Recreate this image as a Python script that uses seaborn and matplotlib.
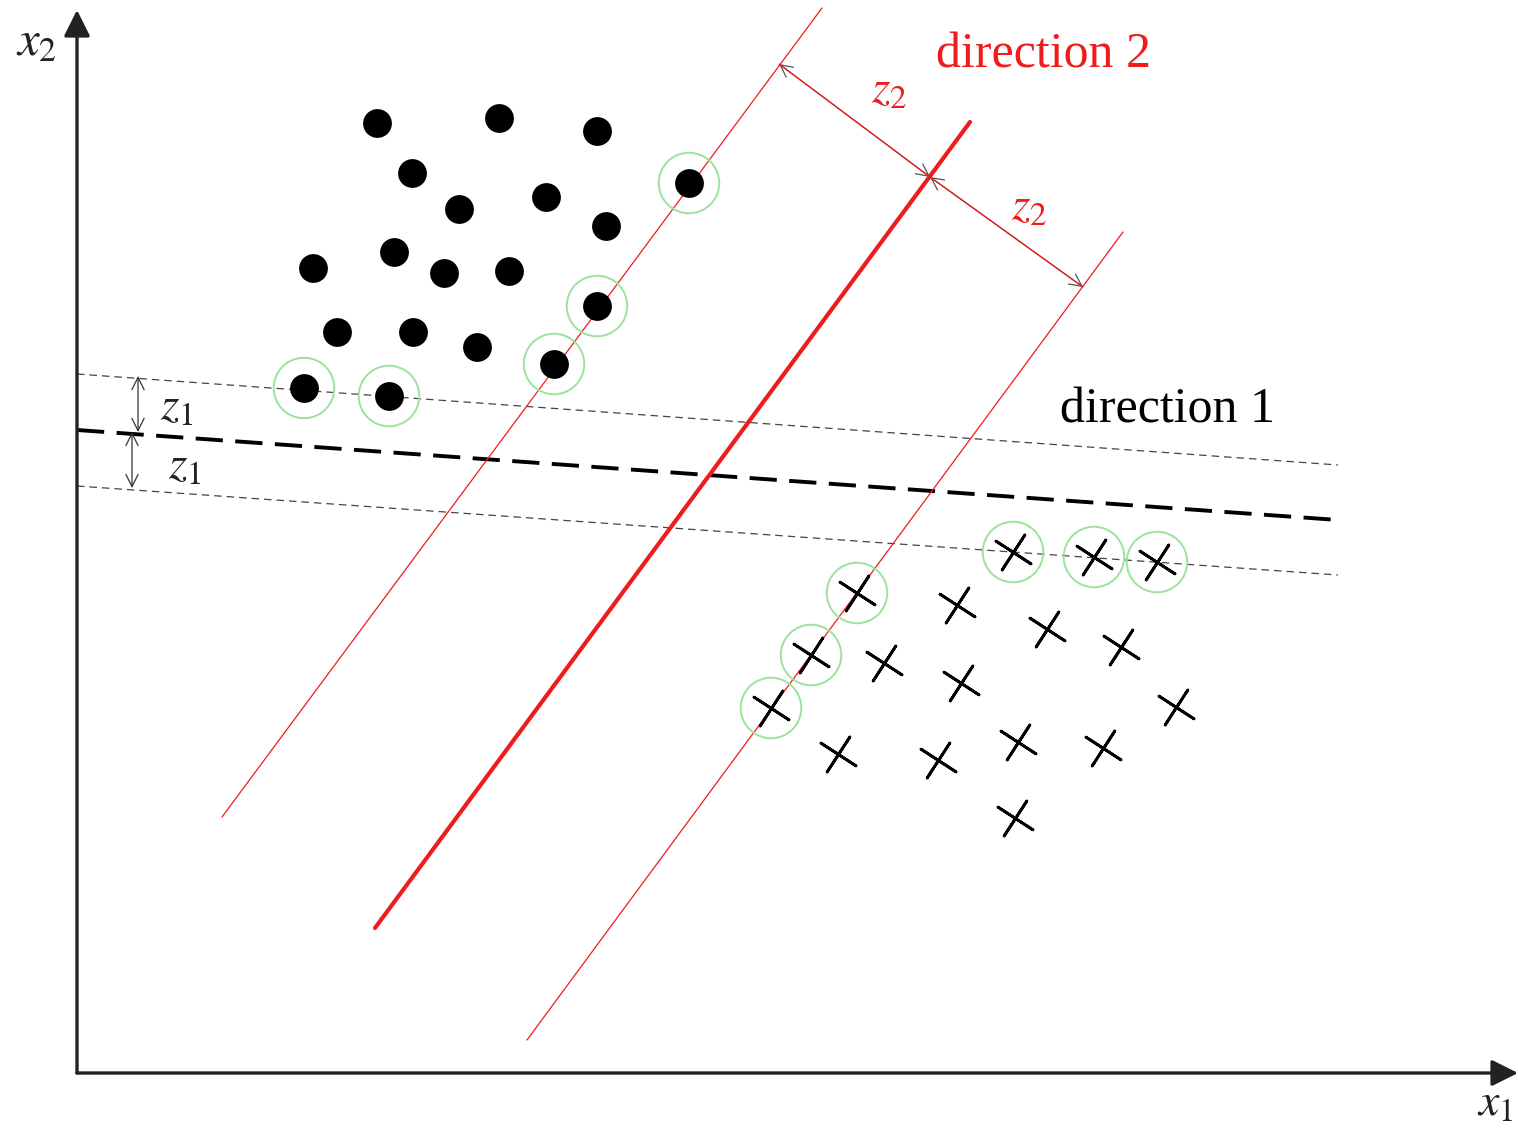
import numpy as np
import pandas as pd
import matplotlib
matplotlib.use("Agg")
import matplotlib.pyplot as plt
import seaborn as sns

# Class 1 (filled dots), coordinates in x1 / x2 units
dot_x1 = [300, 422, 520, 335, 469, 382, 529, 612, 236, 317, 367, 432, 520, 260, 336, 400, 477, 227, 312]
dot_x2 = [950, 955, 942, 900, 876, 864, 847, 890, 805, 821, 800, 802, 767, 741, 741, 726, 709, 685, 677]
dot_sv = [0, 0, 0, 0, 0, 0, 0, 1, 0, 0, 0, 0, 1, 0, 0, 0, 1, 1, 1]

# Class 2 (crosses)
cross_x1 = [936, 1017, 1080, 780, 734, 694, 880, 970, 1044, 807, 884, 1099, 761, 861, 941, 1026, 938]
cross_x2 = [521, 516, 511, 480, 418, 365, 468, 444, 426, 410, 390, 366, 319, 313, 331, 325, 255]
cross_sv = [1, 1, 1, 1, 1, 1, 0, 0, 0, 0, 0, 0, 0, 0, 0, 0, 0]

# Separating lines (two end points each)
dir1_mid_x1, dir1_mid_x2 = [0, 1261], [643, 553]
dir1_up_x1, dir1_up_x2 = [0, 1261], [699, 608]
dir1_lo_x1, dir1_lo_x2 = [0, 1261], [587, 498]
dir2_mid_x1, dir2_mid_x2 = [298, 893], [145, 951]
dir2_left_x1, dir2_left_x2 = [145, 745], [256, 1065]
dir2_right_x1, dir2_right_x2 = [450, 1046], [33, 841]

# Margin arrows
z2_x1, z2_x2 = [702, 853, 1006], [1009, 896, 786]
z1_up_x1, z1_up_x2 = [61, 61], [697, 641]
z1_lo_x1, z1_lo_x2 = [55, 55], [641, 585]

dots = pd.DataFrame({"x1": dot_x1, "x2": dot_x2, "sv": dot_sv})
crosses = pd.DataFrame({"x1": cross_x1, "x2": cross_x2, "sv": cross_sv})
support = pd.concat([dots[dots.sv == 1], crosses[crosses.sv == 1]])

sns.set_theme(style="white")
plt.rcParams["font.family"] = ["Liberation Serif", "DejaVu Serif"]
plt.rcParams["mathtext.fontset"] = "stix"

fig = plt.figure(figsize=(15.18, 11.28), dpi=100)
ax = fig.add_axes([0, 0, 1, 1])
ax.set_xlim(-77, 1441)
ax.set_ylim(-55, 1073)
ax.axis("off")

red = "#ee1c1c"

# direction 1 (black dashed)
sns.lineplot(x=dir1_mid_x1, y=dir1_mid_x2, ax=ax, color="black", linewidth=2.8,
             linestyle=(0, (7, 3.2)), sort=False, estimator=None)
for xs, ys in [(dir1_up_x1, dir1_up_x2), (dir1_lo_x1, dir1_lo_x2)]:
    sns.lineplot(x=xs, y=ys, ax=ax, color="#444444", linewidth=0.9,
                 linestyle=(0, (6, 4)), sort=False, estimator=None)

# direction 2 (red)
sns.lineplot(x=dir2_mid_x1, y=dir2_mid_x2, ax=ax, color=red, linewidth=3.0,
             sort=False, estimator=None)
for xs, ys in [(dir2_left_x1, dir2_left_x2), (dir2_right_x1, dir2_right_x2)]:
    sns.lineplot(x=xs, y=ys, ax=ax, color=red, linewidth=0.9, sort=False, estimator=None)

# support vector rings
sns.scatterplot(data=support, x="x1", y="x2", ax=ax, marker="o", s=1900,
                facecolor="none", edgecolor="#9be39b", linewidth=1.4, zorder=3)

# classes
sns.scatterplot(data=dots, x="x1", y="x2", ax=ax, marker="o", s=430,
                color="black", edgecolor="black", linewidth=0, zorder=4)
sns.scatterplot(data=crosses, x="x1", y="x2", ax=ax, marker=(4, 2, 57), s=900,
                color="black", linewidth=2.0, zorder=4)

# margin arrows z2
head = dict(arrowstyle="<->", color="#555555", lw=0.9, mutation_scale=22,
            shrinkA=0, shrinkB=0)
for i in range(2):
    ax.annotate("", xy=(z2_x1[i], z2_x2[i]), xytext=(z2_x1[i + 1], z2_x2[i + 1]),
                arrowprops=head, zorder=5)
    sns.lineplot(x=z2_x1[i:i + 2], y=z2_x2[i:i + 2], ax=ax, color=red,
                 linewidth=0.9, sort=False, estimator=None, zorder=6)

# margin arrows z1
for xs, ys in [(z1_up_x1, z1_up_x2), (z1_lo_x1, z1_lo_x2)]:
    ax.annotate("", xy=(xs[0], ys[0]), xytext=(xs[1], ys[1]),
                arrowprops=dict(arrowstyle="<->", color="#333333", lw=0.9,
                                mutation_scale=22, shrinkA=0, shrinkB=0))

# coordinate axes
ax.annotate("", xy=(0, 1063), xytext=(0, 0),
            arrowprops=dict(arrowstyle="-|>", color="#222222", lw=2.4,
                            mutation_scale=40, shrinkA=0, shrinkB=0))
ax.annotate("", xy=(1441, 0), xytext=(0, 0),
            arrowprops=dict(arrowstyle="-|>", color="#222222", lw=2.4,
                            mutation_scale=40, shrinkA=0, shrinkB=0))

# labels
ax.text(-40, 1030, r"$x_2$", fontsize=35, ha="center", va="center", color="#222222")
ax.text(1418, -31, r"$x_1$", fontsize=33, ha="center", va="center", color="#222222")
ax.text(966, 1018, "direction 2", fontsize=36, ha="center", va="center", color=red)
ax.text(1091, 663, "direction 1", fontsize=36, ha="center", va="center", color="black")
ax.text(812, 982, r"$z_2$", fontsize=34, ha="center", va="center", color=red)
ax.text(952, 865, r"$z_2$", fontsize=34, ha="center", va="center", color=red)
ax.text(100, 665, r"$z_1$", fontsize=34, ha="center", va="center", color="#222222")
ax.text(108, 606, r"$z_1$", fontsize=34, ha="center", va="center", color="#222222")

fig.savefig("out.png", dpi=100)
